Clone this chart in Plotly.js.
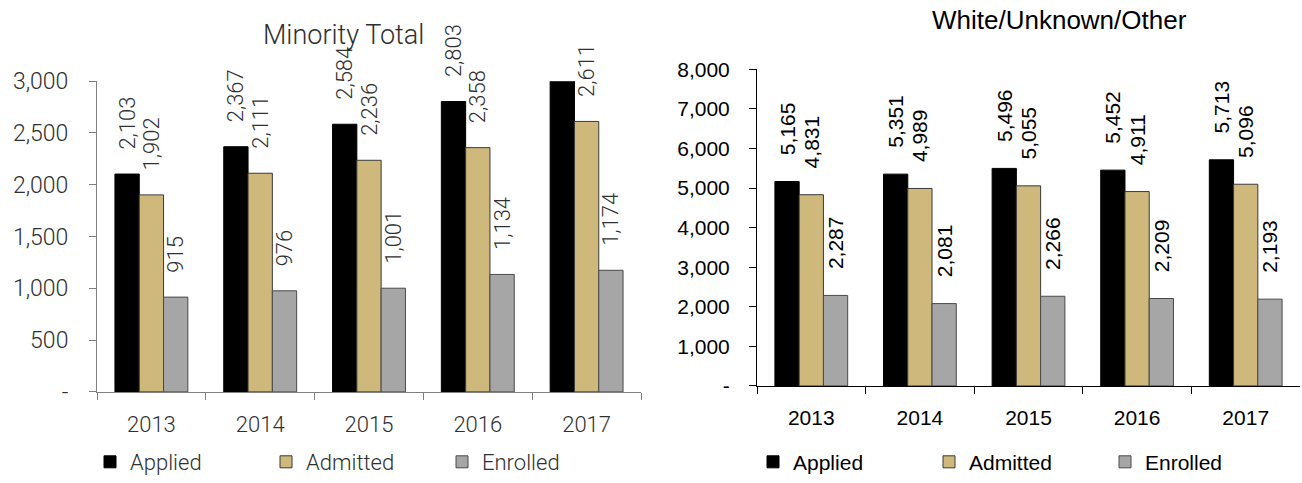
<!DOCTYPE html>
<html><head><meta charset="utf-8">
<script src="https://cdn.plot.ly/plotly-3.0.1.min.js"></script>
<style>html,body{margin:0;padding:0;background:#fff}#chart{width:1302px;height:483px}</style>
</head><body><div id="chart"></div>
<script>
const years = ['2013','2014','2015','2016','2017'];
const seriesNames = ['Applied','Admitted','Enrolled'];
const minorityApplied  = [2103, 2367, 2584, 2803, 3004];
const minorityAdmitted = [1902, 2111, 2236, 2358, 2611];
const minorityEnrolled = [915, 976, 1001, 1134, 1174];
const whiteApplied  = [5165, 5351, 5496, 5452, 5713];
const whiteAdmitted = [4831, 4989, 5055, 4911, 5096];
const whiteEnrolled = [2287, 2081, 2266, 2209, 2193];
const minorityTickVals = [0, 500, 1000, 1500, 2000, 2500, 3000];
const minorityTickText = ['-', '500', '1,000', '1,500', '2,000', '2,500', '3,000'];
const whiteTickVals = [0, 1000, 2000, 3000, 4000, 5000, 6000, 7000, 8000];
const whiteTickText = ['-', '1,000', '2,000', '3,000', '4,000', '5,000', '6,000', '7,000', '8,000'];
const leftTitle = 'Minority Total';
const rightTitle = 'White/Unknown/Other';

const colors = ['#000000', '#CFB87C', '#A6A6A6'];
const outlines = ['#000000', '#3a3a3a', '#4a4a4a'];
const PAD = '\u00a0\u00a0\u00a0\u00a0';
function labels(vals, max){ return vals.map(v => v > max ? '' : PAD + v.toLocaleString('en-US')); }

const leftFont = {family: 'Roboto', weight: 300, color: '#303030'};
const rightFont = {family: 'Liberation Sans, Arial', color: '#000000'};

const traces = [];
[minorityApplied, minorityAdmitted, minorityEnrolled].forEach((vals, i) => traces.push({
  type: 'bar', x: years, y: vals, name: seriesNames[i],
  xaxis: 'x', yaxis: 'y', legend: 'legend',
  marker: {color: colors[i], line: {color: outlines[i], width: 1}},
  text: labels(vals, 3000), textposition: 'outside', textangle: -90,
  cliponaxis: false, constraintext: 'none',
  textfont: Object.assign({size: 22}, leftFont), hoverinfo: 'skip'
}));
[whiteApplied, whiteAdmitted, whiteEnrolled].forEach((vals, i) => traces.push({
  type: 'bar', x: years, y: vals, name: seriesNames[i],
  xaxis: 'x2', yaxis: 'y2', legend: 'legend2',
  marker: {color: colors[i], line: {color: outlines[i], width: 1}},
  text: labels(vals, 8000), textposition: 'outside', textangle: -90,
  cliponaxis: false, constraintext: 'none',
  textfont: Object.assign({size: 21}, rightFont), hoverinfo: 'skip'
}));

const W = 1302, H = 483;
const layout = {
  width: W, height: H, margin: {l: 0, r: 0, t: 0, b: 0},
  paper_bgcolor: '#fff', plot_bgcolor: 'rgba(0,0,0,0)',
  barmode: 'group', bargap: 0.33, bargroupgap: 0,
  showlegend: true,
  xaxis: {domain: [97/W, 641/W], anchor: 'y', type: 'category',
    tickson: 'boundaries', ticks: 'outside', ticklen: 7, tickcolor: '#808080',
    showline: true, linecolor: '#808080', linewidth: 1, showgrid: false,
    tickfont: Object.assign({size: 22}, leftFont), ticklabelstandoff: 13},
  yaxis: {domain: [(H-396)/H, (H-82)/H], anchor: 'x', range: [0, 3000],
    tickvals: minorityTickVals, ticktext: minorityTickText,
    ticks: 'outside', ticklen: 7, tickcolor: '#808080',
    showline: true, linecolor: '#808080', linewidth: 1, showgrid: false, zeroline: false,
    tickfont: Object.assign({size: 23}, leftFont), ticklabelstandoff: 16},
  xaxis2: {domain: [757/W, 1300/W], anchor: 'y2', type: 'category',
    tickson: 'boundaries', ticks: 'outside', ticklen: 7, tickcolor: '#000',
    showline: true, linecolor: '#000', linewidth: 1, showgrid: false,
    tickfont: Object.assign({size: 21}, rightFont), ticklabelstandoff: 13},
  yaxis2: {domain: [(H-390)/H, (H-70)/H], anchor: 'x2', range: [0, 8000],
    tickvals: whiteTickVals, ticktext: whiteTickText,
    ticks: 'outside', ticklen: 7, tickcolor: '#000',
    showline: true, linecolor: '#000', linewidth: 1, showgrid: false, zeroline: false,
    tickfont: Object.assign({size: 21}, rightFont), ticklabelstandoff: 15},
  legend: {orientation: 'h', x: 90/W, y: (H-467)/H, xanchor: 'left', yanchor: 'middle',
    entrywidth: 131, entrywidthmode: 'pixels', itemwidth: 30,
    font: Object.assign({size: 22}, leftFont), bgcolor: 'rgba(0,0,0,0)', traceorder: 'normal'},
  legend2: {orientation: 'h', x: 753/W, y: (H-467)/H, xanchor: 'left', yanchor: 'middle',
    entrywidth: 131, entrywidthmode: 'pixels', itemwidth: 30,
    font: Object.assign({size: 21}, rightFont), bgcolor: 'rgba(0,0,0,0)', traceorder: 'normal'},
  annotations: [
    {text: leftTitle, xref: 'paper', yref: 'paper', x: 343/W, y: (H-35)/H,
     xanchor: 'center', yanchor: 'middle', showarrow: false, font: Object.assign({size: 27}, leftFont)},
    {text: rightTitle, xref: 'paper', yref: 'paper', x: 1059/W, y: (H-20)/H,
     xanchor: 'center', yanchor: 'middle', showarrow: false, font: Object.assign({size: 26}, rightFont)}
  ]
};
Plotly.newPlot('chart', traces, layout, {staticPlot: true, displayModeBar: false});
</script></body></html>
